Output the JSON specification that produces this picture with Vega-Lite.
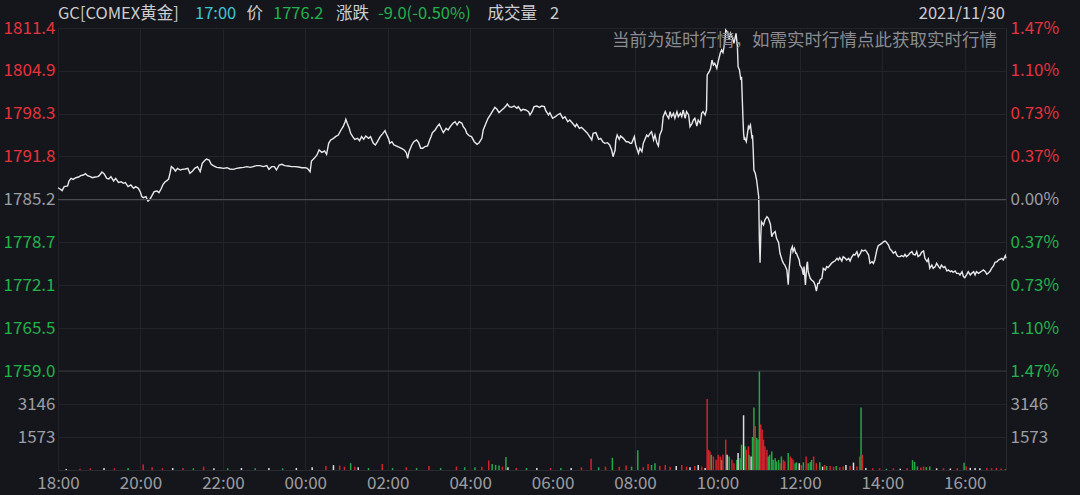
{
"$schema": "https://vega.github.io/schema/vega-lite/v6.json",
"width": 948, "height": 442,
"autosize": {"type": "none"},
"padding": {"left": 58, "top": 28, "right": 74, "bottom": 25},
"background": "#15161b",
"config": {
 "view": {"stroke": "#2a2b31", "strokeWidth": 1},
 "font": "Noto Sans CJK SC",
 "axis": {"labelFont": "Noto Sans CJK SC", "labelFontSize": 17, "domain": false, "ticks": false, "gridColor": "#23242a", "gridWidth": 1, "title": null}
},
"datasets": {
"price": [
{"t":0,"p":1787.0},{"t":3,"p":1786.8},{"t":6,"p":1786.55},{"t":9,"p":1787.16},{"t":14,"p":1787.26},{"t":16,"p":1788.03},{"t":19,"p":1788.43},{"t":22,"p":1788.28},{"t":26,"p":1788.53},{"t":30,"p":1788.64},{"t":33,"p":1788.84},{"t":37,"p":1788.94},{"t":40,"p":1789.15},{"t":43,"p":1788.84},{"t":47,"p":1788.69},{"t":50,"p":1788.53},{"t":54,"p":1788.64},{"t":58,"p":1788.69},{"t":60,"p":1788.84},{"t":64,"p":1789.4},{"t":67,"p":1789.15},{"t":71,"p":1788.43},{"t":74,"p":1788.33},{"t":77,"p":1788.69},{"t":81,"p":1788.03},{"t":84,"p":1788.43},{"t":88,"p":1787.82},{"t":92,"p":1787.92},{"t":95,"p":1787.67},{"t":98,"p":1787.77},{"t":102,"p":1787.16},{"t":106,"p":1787.42},{"t":110,"p":1786.91},{"t":113,"p":1787.16},{"t":117,"p":1786.91},{"t":120,"p":1786.3},{"t":122,"p":1785.63},{"t":124,"p":1785.48},{"t":128,"p":1785.63},{"t":131,"p":1784.97},{"t":134,"p":1785.28},{"t":136,"p":1785.63},{"t":140,"p":1786.4},{"t":144,"p":1786.5},{"t":147,"p":1786.25},{"t":150,"p":1786.8},{"t":153,"p":1787.52},{"t":156,"p":1787.92},{"t":158,"p":1788.03},{"t":161,"p":1788.33},{"t":163,"p":1789.2},{"t":165,"p":1790.22},{"t":168,"p":1789.96},{"t":171,"p":1789.55},{"t":174,"p":1789.96},{"t":178,"p":1789.71},{"t":181,"p":1789.81},{"t":185,"p":1789.86},{"t":189,"p":1789.96},{"t":192,"p":1789.2},{"t":196,"p":1789.55},{"t":199,"p":1789.96},{"t":203,"p":1790.22},{"t":207,"p":1789.45},{"t":210,"p":1790.73},{"t":213,"p":1791.08},{"t":216,"p":1791.39},{"t":220,"p":1791.23},{"t":223,"p":1790.57},{"t":226,"p":1790.37},{"t":231,"p":1790.11},{"t":236,"p":1790.06},{"t":241,"p":1789.96},{"t":246,"p":1790.06},{"t":250,"p":1789.86},{"t":255,"p":1789.81},{"t":260,"p":1789.96},{"t":265,"p":1790.06},{"t":270,"p":1790.11},{"t":275,"p":1790.22},{"t":280,"p":1790.11},{"t":284,"p":1790.22},{"t":289,"p":1790.37},{"t":294,"p":1790.37},{"t":299,"p":1790.22},{"t":304,"p":1790.37},{"t":307,"p":1789.81},{"t":311,"p":1790.22},{"t":315,"p":1790.22},{"t":318,"p":1789.71},{"t":322,"p":1790.47},{"t":326,"p":1790.57},{"t":330,"p":1790.37},{"t":335,"p":1790.32},{"t":340,"p":1790.22},{"t":345,"p":1790.22},{"t":350,"p":1790.17},{"t":355,"p":1790.06},{"t":360,"p":1790.06},{"t":363,"p":1789.96},{"t":367,"p":1789.45},{"t":369,"p":1791.08},{"t":373,"p":1791.49},{"t":377,"p":1792.0},{"t":380,"p":1792.76},{"t":384,"p":1792.41},{"t":388,"p":1792.61},{"t":391,"p":1792.1},{"t":394,"p":1793.78},{"t":397,"p":1794.29},{"t":401,"p":1794.54},{"t":404,"p":1794.8},{"t":408,"p":1795.05},{"t":412,"p":1795.82},{"t":415,"p":1796.33},
{"t":418,"p":1797.09},{"t":419,"p":1797.45},{"t":421,"p":1796.84},{"t":424,"p":1796.07},{"t":426,"p":1795.31},{"t":429,"p":1794.8},{"t":432,"p":1794.39},{"t":436,"p":1794.54},{"t":439,"p":1794.19},{"t":442,"p":1794.8},{"t":445,"p":1794.39},{"t":448,"p":1794.9},{"t":452,"p":1794.54},{"t":455,"p":1794.8},{"t":459,"p":1793.78},{"t":462,"p":1793.53},{"t":465,"p":1794.03},{"t":469,"p":1794.8},{"t":473,"p":1795.31},{"t":476,"p":1795.72},{"t":478,"p":1795.21},{"t":481,"p":1794.54},{"t":483,"p":1793.78},{"t":486,"p":1794.03},{"t":489,"p":1793.53},{"t":493,"p":1793.37},{"t":497,"p":1793.17},{"t":500,"p":1793.02},{"t":504,"p":1792.76},{"t":507,"p":1792.35},{"t":509,"p":1791.49},{"t":511,"p":1792.51},{"t":515,"p":1793.53},{"t":518,"p":1794.03},{"t":522,"p":1794.29},{"t":525,"p":1793.88},{"t":528,"p":1793.02},{"t":531,"p":1793.02},{"t":534,"p":1793.27},{"t":538,"p":1793.37},{"t":541,"p":1794.29},{"t":543,"p":1794.8},{"t":545,"p":1795.41},{"t":549,"p":1795.82},{"t":552,"p":1796.33},{"t":555,"p":1796.73},{"t":559,"p":1795.82},{"t":561,"p":1795.41},{"t":565,"p":1796.07},{"t":568,"p":1795.82},{"t":571,"p":1796.33},{"t":575,"p":1796.84},{"t":578,"p":1797.09},{"t":581,"p":1796.58},{"t":584,"p":1797.09},{"t":588,"p":1796.84},{"t":590,"p":1796.33},{"t":593,"p":1795.92},{"t":595,"p":1795.31},{"t":599,"p":1794.9},{"t":602,"p":1794.8},{"t":606,"p":1794.03},{"t":610,"p":1793.63},{"t":613,"p":1793.88},{"t":617,"p":1794.54},{"t":619,"p":1795.82},{"t":623,"p":1796.84},{"t":626,"p":1797.6},{"t":630,"p":1798.26},{"t":633,"p":1798.77},{"t":636,"p":1799.28},{"t":639,"p":1798.98},{"t":642,"p":1798.47},{"t":646,"p":1798.87},{"t":649,"p":1799.13},{"t":652,"p":1799.48},{"t":654,"p":1799.79},{"t":657,"p":1799.38},{"t":660,"p":1799.28},{"t":664,"p":1799.48},{"t":668,"p":1799.13},{"t":670,"p":1799.38},{"t":674,"p":1798.77},{"t":677,"p":1798.98},{"t":681,"p":1798.87},{"t":685,"p":1798.62},{"t":687,"p":1798.11},{"t":690,"p":1798.62},{"t":693,"p":1799.38},{"t":697,"p":1799.48},{"t":701,"p":1799.28},{"t":704,"p":1799.48},{"t":708,"p":1799.38},{"t":710,"p":1798.77},{"t":714,"p":1798.11},{"t":716,"p":1798.47},{"t":720,"p":1797.6},{"t":724,"p":1797.85},{"t":727,"p":1798.11},{"t":731,"p":1798.36},{"t":735,"p":1797.6},{"t":738,"p":1797.85},{"t":742,"p":1797.09},{"t":745,"p":1797.35},{"t":749,"p":1796.84},{"t":753,"p":1796.33},{"t":755,"p":1796.73},{"t":759,"p":1796.07},{"t":762,"p":1796.23},{"t":766,"p":1795.82},{"t":770,"p":1795.41},{"t":774,"p":1794.8},{"t":777,"p":1794.29},{"t":779,"p":1795.31},{"t":783,"p":1795.41},{"t":787,"p":1794.39},{"t":790,"p":1794.54},{"t":793,"p":1794.03},{"t":796,"p":1793.78},{"t":800,"p":1793.88},{"t":803,"p":1793.53},{"t":806,"p":1792.76},{"t":808,"p":1791.74},{"t":811,"p":1792.76},{"t":812,"p":1794.29},{"t":814,"p":1795.05},{"t":817,"p":1794.39},{"t":819,"p":1794.9},{"t":823,"p":1794.54},{"t":827,"p":1794.03},{"t":830,"p":1794.03},{"t":833,"p":1793.78},
{"t":835,"p":1793.78},{"t":839,"p":1794.8},{"t":841,"p":1793.53},{"t":845,"p":1792.25},{"t":847,"p":1793.02},{"t":850,"p":1792.51},{"t":852,"p":1793.78},{"t":855,"p":1794.54},{"t":857,"p":1795.05},{"t":859,"p":1794.8},{"t":862,"p":1795.31},{"t":864,"p":1795.56},{"t":867,"p":1794.29},{"t":869,"p":1795.05},{"t":872,"p":1793.78},{"t":874,"p":1793.37},{"t":876,"p":1795.05},{"t":879,"p":1795.82},{"t":881,"p":1797.85},{"t":884,"p":1798.62},{"t":886,"p":1798.11},{"t":889,"p":1797.6},{"t":891,"p":1798.62},{"t":893,"p":1797.85},{"t":896,"p":1798.36},{"t":898,"p":1797.6},{"t":901,"p":1798.62},{"t":903,"p":1797.85},{"t":906,"p":1798.36},{"t":908,"p":1797.85},{"t":910,"p":1798.87},{"t":913,"p":1797.6},{"t":915,"p":1798.62},{"t":918,"p":1798.11},{"t":920,"p":1796.33},{"t":923,"p":1796.84},{"t":925,"p":1797.35},{"t":927,"p":1797.6},{"t":930,"p":1796.43},{"t":932,"p":1797.35},{"t":935,"p":1796.84},{"t":937,"p":1798.36},{"t":939,"p":1798.62},{"t":942,"p":1798.11},{"t":944,"p":1798.87},{"t":945,"p":1804.22},{"t":948,"p":1804.73},{"t":950,"p":1805.24},{"t":952,"p":1806.51},{"t":954,"p":1805.75},{"t":956,"p":1806.0},{"t":959,"p":1805.24},{"t":961,"p":1806.26},{"t":964,"p":1807.53},{"t":966,"p":1808.04},{"t":968,"p":1807.63},{"t":970,"p":1808.8},{"t":971,"p":1809.57},{"t":972,"p":1811.09},{"t":974,"p":1810.84},{"t":976,"p":1810.33},{"t":977,"p":1809.57},{"t":979,"p":1810.59},{"t":982,"p":1809.82},{"t":984,"p":1809.06},{"t":986,"p":1810.08},{"t":987,"p":1810.59},{"t":989,"p":1808.55},{"t":990,"p":1805.49},{"t":992,"p":1804.98},{"t":994,"p":1803.46},{"t":995,"p":1803.96},{"t":997,"p":1797.85},{"t":998,"p":1795.31},{"t":999,"p":1794.29},{"t":1000,"p":1794.54},{"t":1002,"p":1794.03},{"t":1003,"p":1794.8},{"t":1005,"p":1796.33},{"t":1006,"p":1796.07},{"t":1008,"p":1796.58},{"t":1010,"p":1794.8},{"t":1011,"p":1795.05},{"t":1012,"p":1792.76},{"t":1013,"p":1789.71},{"t":1015,"p":1789.2},{"t":1017,"p":1788.18},{"t":1020,"p":1785.63},{"t":1021,"p":1779.01},{"t":1022,"p":1775.55},{"t":1023,"p":1779.52},{"t":1024,"p":1781.81},{"t":1027,"p":1781.3},{"t":1029,"p":1782.07},{"t":1032,"p":1782.58},{"t":1034,"p":1782.33},{"t":1037,"p":1781.46},{"t":1039,"p":1779.52},{"t":1041,"p":1780.03},{"t":1044,"p":1780.29},{"t":1046,"p":1779.27},{"t":1049,"p":1778.61},{"t":1051,"p":1776.98},{"t":1054,"p":1775.96},{"t":1056,"p":1775.45},{"t":1058,"p":1775.19},{"t":1061,"p":1774.43},{"t":1063,"p":1772.2},
{"t":1064,"p":1774.17},{"t":1066,"p":1776.47},{"t":1067,"p":1777.48},{"t":1069,"p":1777.99},{"t":1070,"p":1777.23},{"t":1072,"p":1777.74},{"t":1074,"p":1776.98},{"t":1075,"p":1776.98},{"t":1077,"p":1776.47},{"t":1079,"p":1775.96},{"t":1080,"p":1775.19},{"t":1083,"p":1774.68},{"t":1085,"p":1773.67},{"t":1086,"p":1774.94},{"t":1088,"p":1772.14},{"t":1090,"p":1775.19},{"t":1091,"p":1775.7},{"t":1092,"p":1774.17},{"t":1095,"p":1773.16},{"t":1097,"p":1772.9},{"t":1100,"p":1772.65},{"t":1102,"p":1772.14},{"t":1104,"p":1771.22},{"t":1106,"p":1772.39},{"t":1108,"p":1772.39},{"t":1109,"p":1772.9},{"t":1112,"p":1773.16},{"t":1114,"p":1774.68},{"t":1117,"p":1774.43},{"t":1119,"p":1774.94},{"t":1121,"p":1774.79},{"t":1124,"p":1775.19},{"t":1126,"p":1775.45},{"t":1129,"p":1775.7},{"t":1131,"p":1775.8},{"t":1134,"p":1776.21},{"t":1136,"p":1775.96},{"t":1138,"p":1776.31},{"t":1141,"p":1775.8},{"t":1143,"p":1776.47},{"t":1146,"p":1776.21},{"t":1148,"p":1775.96},{"t":1151,"p":1776.21},{"t":1153,"p":1775.8},{"t":1155,"p":1776.31},{"t":1158,"p":1776.82},{"t":1160,"p":1776.72},{"t":1163,"p":1777.23},{"t":1165,"p":1776.47},{"t":1168,"p":1776.98},{"t":1170,"p":1777.48},{"t":1172,"p":1777.33},{"t":1175,"p":1777.48},{"t":1177,"p":1777.23},{"t":1180,"p":1776.72},{"t":1182,"p":1775.45},{"t":1185,"p":1775.7},{"t":1187,"p":1775.45},{"t":1189,"p":1775.96},{"t":1192,"p":1777.48},{"t":1194,"p":1778.15},{"t":1197,"p":1778.35},{"t":1199,"p":1778.5},{"t":1202,"p":1778.76},{"t":1204,"p":1778.86},{"t":1206,"p":1778.66},{"t":1209,"p":1778.25},{"t":1211,"p":1777.64},{"t":1214,"p":1777.33},{"t":1216,"p":1776.98},{"t":1219,"p":1777.23},{"t":1221,"p":1776.72},{"t":1223,"p":1776.47},{"t":1226,"p":1776.47},{"t":1228,"p":1776.62},{"t":1231,"p":1776.47},{"t":1233,"p":1776.82},{"t":1235,"p":1776.47},{"t":1238,"p":1776.72},{"t":1240,"p":1776.98},{"t":1243,"p":1777.23},{"t":1245,"p":1776.82},{"t":1248,"p":1776.72},{"t":1250,"p":1777.23},{"t":1252,"p":1776.47},{"t":1255,"p":1776.72},{"t":1257,"p":1777.13},{"t":1260,"p":1777.33},{"t":1262,"p":1776.21},{"t":1265,"p":1775.7},{"t":1267,"p":1776.11},{"t":1269,"p":1774.68},{"t":1272,"p":1775.19},{"t":1274,"p":1774.68},{"t":1277,"p":1774.94},{"t":1279,"p":1775.45},{"t":1282,"p":1774.94},{"t":1284,"p":1774.68},{"t":1286,"p":1775.19},{"t":1289,"p":1774.79},{"t":1291,"p":1774.94},{"t":1294,"p":1774.28},{"t":1296,"p":1774.43},{"t":1299,"p":1774.17},{"t":1301,"p":1774.28},{"t":1303,"p":1774.07},{"t":1306,"p":1774.28},{"t":1308,"p":1773.92},{"t":1311,"p":1773.92},{"t":1313,"p":1773.67},{"t":1316,"p":1774.17},{"t":1318,"p":1773.41},{"t":1320,"p":1773.26},{"t":1323,"p":1773.77},{"t":1325,"p":1774.17},{"t":1328,"p":1773.67},{"t":1330,"p":1773.92},{"t":1333,"p":1774.17},{"t":1335,"p":1773.67},{"t":1337,"p":1774.17},{"t":1340,"p":1773.92},{"t":1342,"p":1774.07},{"t":1345,"p":1774.28},{"t":1347,"p":1774.43},{"t":1350,"p":1774.17},{"t":1352,"p":1773.77},{"t":1354,"p":1773.92},{"t":1357,"p":1774.28},{"t":1359,"p":1774.68},{"t":1362,"p":1775.09},{"t":1364,"p":1775.6},{"t":1367,"p":1775.7},{"t":1369,"p":1775.96},{"t":1371,"p":1776.06},{"t":1374,"p":1776.21},{"t":1376,"p":1775.96},{"t":1379,"p":1776.62},{"t":1380,"p":1776.2}
],
"volume": [
{"t":12,"v":50,"d":"flat"},{"t":32,"v":65,"d":"up"},{"t":47,"v":80,"d":"up"},{"t":67,"v":95,"d":"flat"},{"t":82,"v":80,"d":"up"},{"t":102,"v":95,"d":"down"},{"t":124,"v":260,"d":"up"},{"t":137,"v":130,"d":"up"},{"t":152,"v":80,"d":"up"},{"t":167,"v":95,"d":"flat"},{"t":182,"v":95,"d":"up"},{"t":197,"v":80,"d":"down"},{"t":212,"v":160,"d":"up"},{"t":227,"v":80,"d":"flat"},{"t":247,"v":80,"d":"down"},{"t":267,"v":95,"d":"flat"},{"t":287,"v":80,"d":"down"},{"t":307,"v":95,"d":"flat"},{"t":327,"v":80,"d":"down"},{"t":347,"v":95,"d":"flat"},{"t":370,"v":130,"d":"flat"},{"t":390,"v":195,"d":"up"},{"t":401,"v":230,"d":"flat"},{"t":410,"v":210,"d":"up"},{"t":417,"v":160,"d":"up"},{"t":426,"v":325,"d":"down"},{"t":432,"v":160,"d":"up"},{"t":437,"v":130,"d":"flat"},{"t":452,"v":95,"d":"down"},{"t":472,"v":290,"d":"up"},{"t":487,"v":95,"d":"down"},{"t":507,"v":130,"d":"up"},{"t":522,"v":95,"d":"down"},{"t":540,"v":195,"d":"up"},{"t":557,"v":95,"d":"down"},{"t":580,"v":160,"d":"up"},{"t":592,"v":130,"d":"down"},{"t":607,"v":130,"d":"down"},{"t":617,"v":160,"d":"up"},{"t":627,"v":455,"d":"up"},{"t":632,"v":290,"d":"down"},{"t":637,"v":240,"d":"down"},{"t":642,"v":210,"d":"down"},{"t":647,"v":160,"d":"up"},{"t":652,"v":615,"d":"down"},{"t":655,"v":130,"d":"flat"},{"t":667,"v":95,"d":"up"},{"t":682,"v":95,"d":"down"},{"t":697,"v":95,"d":"flat"},{"t":717,"v":95,"d":"up"},{"t":732,"v":95,"d":"down"},{"t":747,"v":95,"d":"flat"},{"t":762,"v":130,"d":"up"},{"t":776,"v":535,"d":"up"},{"t":787,"v":130,"d":"down"},{"t":797,"v":160,"d":"up"},{"t":807,"v":583,"d":"down"},{"t":817,"v":160,"d":"up"},{"t":827,"v":210,"d":"up"},{"t":835,"v":160,"d":"down"},{"t":844,"v":940,"d":"down"},{"t":852,"v":130,"d":"up"},{"t":859,"v":290,"d":"up"},{"t":864,"v":240,"d":"down"},{"t":869,"v":320,"d":"down"},{"t":876,"v":190,"d":"up"},{"t":884,"v":240,"d":"up"},{"t":891,"v":160,"d":"up"},{"t":900,"v":190,"d":"flat"},{"t":908,"v":240,"d":"up"},{"t":915,"v":160,"d":"up"},{"t":920,"v":130,"d":"flat"},{"t":927,"v":190,"d":"up"},{"t":932,"v":240,"d":"flat"},{"t":937,"v":160,"d":"up"},{"t":942,"v":100,"d":"flat"},
{"t":945,"v":3380,"d":"up"},{"t":947,"v":966,"d":"up"},{"t":949,"v":885,"d":"up"},{"t":951,"v":725,"d":"down"},{"t":954,"v":644,"d":"up"},{"t":958,"v":483,"d":"up"},{"t":961,"v":725,"d":"up"},{"t":964,"v":644,"d":"up"},{"t":966,"v":483,"d":"down"},{"t":968,"v":725,"d":"up"},{"t":972,"v":1449,"d":"up"},{"t":974,"v":725,"d":"flat"},{"t":977,"v":644,"d":"down"},{"t":981,"v":483,"d":"up"},{"t":984,"v":322,"d":"up"},{"t":988,"v":483,"d":"down"},{"t":990,"v":805,"d":"flat"},{"t":993,"v":564,"d":"down"},{"t":995,"v":1208,"d":"down"},{"t":998,"v":2608,"d":"flat"},{"t":1000,"v":1127,"d":"down"},{"t":1002,"v":966,"d":"up"},{"t":1005,"v":1127,"d":"up"},{"t":1006,"v":725,"d":"down"},{"t":1009,"v":644,"d":"flat"},{"t":1011,"v":1578,"d":"down"},{"t":1013,"v":2979,"d":"down"},{"t":1015,"v":2093,"d":"up"},{"t":1017,"v":1530,"d":"down"},{"t":1019,"v":1449,"d":"down"},{"t":1021,"v":4717,"d":"down"},{"t":1023,"v":2174,"d":"up"},{"t":1025,"v":1932,"d":"up"},{"t":1027,"v":1449,"d":"up"},{"t":1029,"v":1127,"d":"up"},{"t":1032,"v":966,"d":"up"},{"t":1034,"v":644,"d":"down"},{"t":1036,"v":725,"d":"down"},{"t":1039,"v":885,"d":"down"},{"t":1041,"v":483,"d":"down"},{"t":1044,"v":564,"d":"down"},{"t":1046,"v":403,"d":"down"},{"t":1049,"v":483,"d":"down"},{"t":1051,"v":322,"d":"up"},{"t":1053,"v":644,"d":"down"},{"t":1056,"v":483,"d":"up"},{"t":1058,"v":403,"d":"up"},{"t":1063,"v":805,"d":"down"},{"t":1066,"v":644,"d":"up"},{"t":1068,"v":564,"d":"up"},{"t":1070,"v":483,"d":"up"},{"t":1073,"v":322,"d":"down"},{"t":1075,"v":370,"d":"down"},{"t":1079,"v":322,"d":"flat"},{"t":1082,"v":241,"d":"up"},{"t":1085,"v":370,"d":"down"},{"t":1089,"v":644,"d":"up"},{"t":1092,"v":322,"d":"down"},{"t":1095,"v":370,"d":"down"},{"t":1097,"v":483,"d":"down"},{"t":1100,"v":644,"d":"up"},{"t":1104,"v":322,"d":"up"},{"t":1109,"v":370,"d":"down"},{"t":1113,"v":161,"d":"flat"},{"t":1116,"v":241,"d":"up"},{"t":1119,"v":193,"d":"down"},{"t":1124,"v":193,"d":"up"},{"t":1129,"v":161,"d":"up"},{"t":1133,"v":193,"d":"down"},{"t":1138,"v":129,"d":"up"},{"t":1143,"v":161,"d":"up"},{"t":1147,"v":241,"d":"flat"},{"t":1153,"v":193,"d":"up"},{"t":1158,"v":354,"d":"flat"},{"t":1163,"v":161,"d":"up"},{"t":1167,"v":644,"d":"up"},{"t":1169,"v":2979,"d":"down"},{"t":1171,"v":725,"d":"up"},{"t":1176,"v":100,"d":"flat"},
{"t":1186,"v":80,"d":"up"},{"t":1196,"v":80,"d":"up"},{"t":1206,"v":60,"d":"down"},{"t":1216,"v":80,"d":"up"},{"t":1226,"v":60,"d":"flat"},{"t":1236,"v":80,"d":"up"},{"t":1244,"v":470,"d":"down"},{"t":1247,"v":390,"d":"down"},{"t":1251,"v":170,"d":"down"},{"t":1256,"v":120,"d":"up"},{"t":1260,"v":170,"d":"up"},{"t":1264,"v":135,"d":"down"},{"t":1269,"v":170,"d":"down"},{"t":1279,"v":80,"d":"flat"},{"t":1289,"v":85,"d":"up"},{"t":1299,"v":70,"d":"flat"},{"t":1309,"v":80,"d":"up"},{"t":1319,"v":340,"d":"down"},{"t":1322,"v":170,"d":"up"},{"t":1328,"v":100,"d":"flat"},{"t":1335,"v":100,"d":"flat"},{"t":1342,"v":85,"d":"flat"},{"t":1352,"v":100,"d":"up"},{"t":1359,"v":85,"d":"up"},{"t":1366,"v":100,"d":"up"},{"t":1373,"v":70,"d":"up"},{"t":1379,"v":50,"d":"up"}
],
"header": [
{"t":0,"p":1813.54,"txt":"GC[COMEX黄金]","kind":"name"},
{"t":199.4,"p":1813.54,"txt":"17:00","kind":"time"},
{"t":274.4,"p":1813.54,"txt":"价","kind":"name"},
{"t":313,"p":1813.54,"txt":"1776.2","kind":"down"},
{"t":404.7,"p":1813.54,"txt":"涨跌","kind":"name"},
{"t":465.8,"p":1813.54,"txt":"-9.0(-0.50%)","kind":"down"},
{"t":625.2,"p":1813.54,"txt":"成交量","kind":"name"},
{"t":716.2,"p":1813.54,"txt":"2","kind":"name"}
]
},
"resolve": {"scale": {"y": "independent"}},
"layer": [
{
 "data": {"name": "price"},
 "mark": {"type": "line", "color": "#e8e8ea", "strokeWidth": 1.4},
 "encoding": {
  "x": {"field": "t", "type": "quantitative",
   "scale": {"domain": [0, 1380], "nice": false, "zero": false},
   "axis": {"values": [0,120,240,360,480,600,720,840,960,1080,1200,1320],
    "labelExpr": "format((18 + datum.value/60) % 24, '02d') + ':00'",
    "labelFlush": false, "labelColor": "#9d9ea3", "labelPadding": 5, "grid": true, "gridColor": "#222329"}},
  "y": {"field": "p", "type": "quantitative",
   "scale": {"domain": [1743.876, 1811.4], "nice": false, "zero": false},
   "axis": {"orient": "left", "values": [1759.0,1765.5,1772.1,1778.7,1785.2,1791.8,1798.3,1804.9,1811.4],
    "format": ".1f", "grid": true, "labelPadding": 3,
    "labelColor": {"condition": [{"test": "datum.value > 1785.3", "value": "#e5323b"}, {"test": "datum.value < 1785.1", "value": "#21b24b"}], "value": "#9d9ea3"}}}
 }
},
{
 "data": {"values": [{"close": 1785.2}]},
 "mark": {"type": "rule", "color": "#4b4c53", "strokeWidth": 1},
 "encoding": {
  "y": {"field": "close", "type": "quantitative",
   "scale": {"domain": [1743.876, 1811.4], "nice": false, "zero": false},
   "axis": {"orient": "right", "values": [1759.0,1765.5,1772.1,1778.7,1785.2,1791.8,1798.3,1804.9,1811.4],
    "grid": false, "labelPadding": 4,
    "labelExpr": "abs(datum.value-1785.2) < 1 ? '0.00%' : abs(datum.value-1785.2) < 9 ? '0.37%' : abs(datum.value-1785.2) < 16 ? '0.73%' : abs(datum.value-1785.2) < 22 ? '1.10%' : '1.47%'",
    "labelColor": {"condition": [{"test": "datum.value > 1785.3", "value": "#e5323b"}, {"test": "datum.value < 1785.1", "value": "#21b24b"}], "value": "#9d9ea3"}}}
 }
},
{
 "data": {"name": "volume"},
 "mark": {"type": "rule", "strokeWidth": 1.5, "opacity": 0.92},
 "encoding": {
  "x": {"field": "t", "type": "quantitative"},
  "y": {"field": "v", "type": "quantitative",
   "scale": {"domain": [0, 21069], "nice": false, "zero": true},
   "axis": {"orient": "left", "values": [1573, 3146], "format": "d", "grid": true, "labelColor": "#9d9ea3", "labelPadding": 3}},
  "y2": {"datum": 0},
  "color": {"field": "d", "type": "nominal", "legend": null,
   "scale": {"domain": ["up", "down", "flat"], "range": ["#e3242b", "#25b44a", "#eeeeee"]}}
 }
},
{
 "data": {"values": [{"v": 4719}]},
 "mark": {"type": "rule", "color": "#35363c", "strokeWidth": 1},
 "encoding": {
  "y": {"field": "v", "type": "quantitative",
   "scale": {"domain": [0, 21069], "nice": false, "zero": true},
   "axis": {"orient": "right", "values": [1573, 3146], "format": "d", "grid": false, "labelColor": "#9d9ea3", "labelPadding": 4}}
 }
},
{
 "data": {"name": "header"},
 "mark": {"type": "text", "align": "left", "baseline": "middle", "fontSize": 16.5, "font": "Noto Sans CJK SC"},
 "encoding": {
  "x": {"field": "t", "type": "quantitative"},
  "y": {"field": "p", "type": "quantitative", "scale": {"domain": [1743.876, 1811.4], "nice": false, "zero": false}, "axis": null},
  "text": {"field": "txt"},
  "color": {"condition": [{"test": "datum.kind === 'time'", "value": "#3ec8d6"}, {"test": "datum.kind === 'down'", "value": "#22b24d"}], "value": "#cdcdd0"}
 }
},
{
 "data": {"values": [{"t": 1378.5, "p": 1813.54, "txt": "2021/11/30"}]},
 "mark": {"type": "text", "align": "right", "baseline": "middle", "fontSize": 16.5, "font": "Noto Sans CJK SC", "color": "#cdcdd0"},
 "encoding": {
  "x": {"field": "t", "type": "quantitative"},
  "y": {"field": "p", "type": "quantitative", "scale": {"domain": [1743.876, 1811.4], "nice": false, "zero": false}, "axis": null},
  "text": {"field": "txt"}
 }
},
{
 "data": {"values": [{"t": 1366.9, "p": 1809.41, "txt": "当前为延时行情，如需实时行情点此获取实时行情"}]},
 "mark": {"type": "text", "align": "right", "baseline": "middle", "fontSize": 17.5, "font": "Noto Sans CJK SC", "color": "#8b8c91"},
 "encoding": {
  "x": {"field": "t", "type": "quantitative"},
  "y": {"field": "p", "type": "quantitative", "scale": {"domain": [1743.876, 1811.4], "nice": false, "zero": false}, "axis": null},
  "text": {"field": "txt"}
 }
}
]
}
